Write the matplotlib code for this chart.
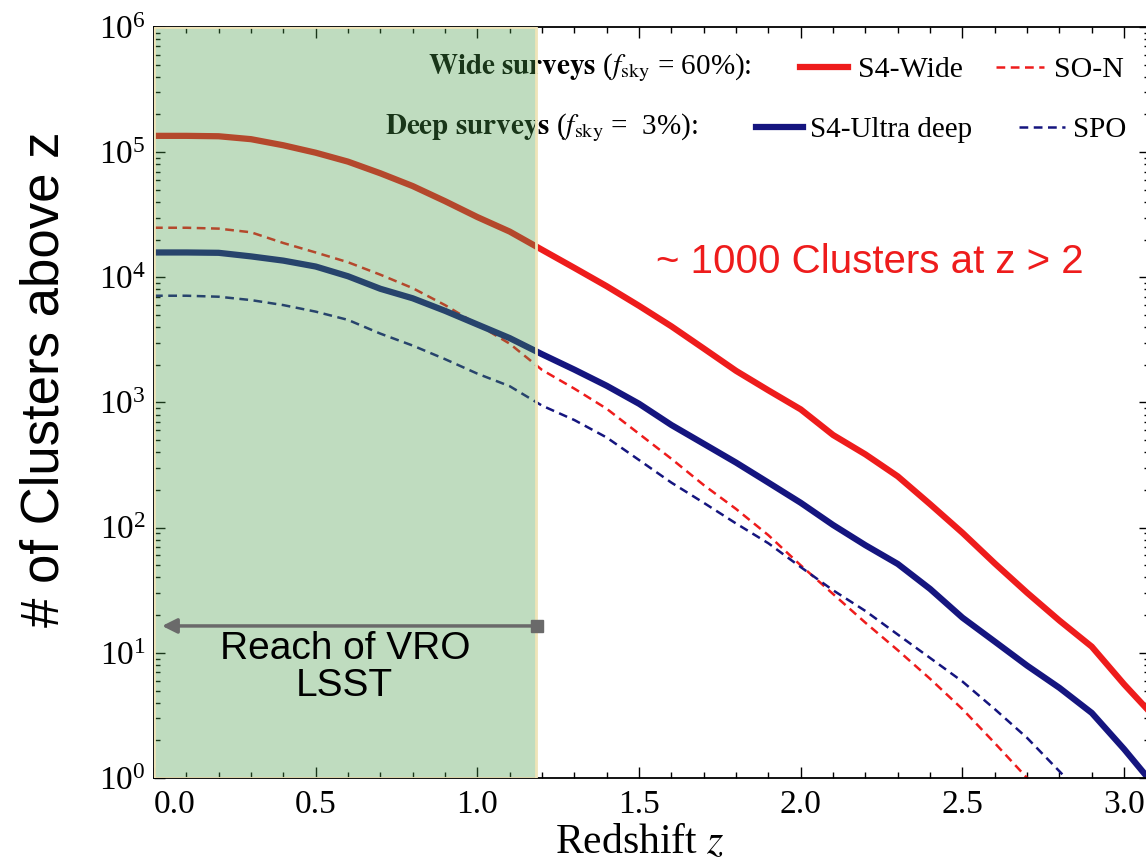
import numpy as np
import matplotlib
matplotlib.use("Agg")
import matplotlib.pyplot as plt
from matplotlib.ticker import MultipleLocator, FormatStrFormatter, LogLocator
from matplotlib.transforms import IdentityTransform

plt.rcParams['font.family'] = ['Liberation Serif', 'DejaVu Serif']
plt.rcParams['mathtext.fontset'] = 'stix'

# S4-Wide (f_sky = 60%)
s4_wide_z = [0.0, 0.1, 0.2, 0.3, 0.4, 0.5, 0.6, 0.7, 0.8, 0.9, 1.0, 1.1, 1.2, 1.3, 1.4,
             1.5, 1.6, 1.7, 1.8, 1.9, 2.0, 2.1, 2.2, 2.3, 2.4, 2.5, 2.6, 2.7, 2.8, 2.9,
             3.0, 3.1]
s4_wide_n = [1.35e5, 1.35e5, 1.34e5, 1.27e5, 1.135e5, 9.9e4, 8.4e4, 6.78e4, 5.36e4, 4.06e4,
             3.03e4, 2.32e4, 1.66e4, 1.19e4, 8.49e3, 5.92e3, 4.06e3, 2.7e3, 1.79e3, 1.25e3,
             881, 550, 385, 257, 154, 91, 51.8, 30.2, 18.1, 11.2, 5.6, 2.95]

# SO-N
so_n_z = [0.0, 0.1, 0.2, 0.3, 0.4, 0.5, 0.6, 0.7, 0.8, 0.9, 1.0, 1.1, 1.2, 1.3, 1.4,
          1.5, 1.6, 1.7, 1.8, 1.9, 2.0, 2.1, 2.2, 2.3, 2.4, 2.5, 2.6, 2.7, 2.75]
so_n_n = [2.49e4, 2.49e4, 2.45e4, 2.29e4, 1.88e4, 1.58e4, 1.32e4, 1.05e4, 8.2e3, 6.0e3,
          4.2e3, 2.95e3, 1.82e3, 1.29e3, 891, 562, 355, 219, 141, 87, 50, 29.5, 17.4,
          10.5, 6.2, 3.55, 1.9, 1.0, 0.71]

# S4-Ultra deep (f_sky = 3%)
s4_deep_z = [0.0, 0.1, 0.2, 0.3, 0.4, 0.5, 0.6, 0.7, 0.8, 0.9, 1.0, 1.1, 1.2, 1.3, 1.4,
             1.5, 1.6, 1.7, 1.8, 1.9, 2.0, 2.1, 2.2, 2.3, 2.4, 2.5, 2.6, 2.7, 2.8, 2.9,
             3.0, 3.1]
s4_deep_n = [1.58e4, 1.58e4, 1.57e4, 1.47e4, 1.36e4, 1.22e4, 1.02e4, 8.1e3, 6.8e3, 5.4e3,
             4.2e3, 3.27e3, 2.43e3, 1.83e3, 1.36e3, 977, 661, 468, 331, 229, 158, 105,
             72.4, 51.3, 32.4, 19.1, 12.3, 7.9, 5.25, 3.31, 1.70, 0.83]

# SPO
spo_z = [0.0, 0.1, 0.2, 0.3, 0.4, 0.5, 0.6, 0.7, 0.8, 0.9, 1.0, 1.1, 1.2, 1.3, 1.4,
         1.5, 1.6, 1.7, 1.8, 1.9, 2.0, 2.1, 2.2, 2.3, 2.4, 2.5, 2.6, 2.7, 2.82, 2.85]
spo_n = [7.13e3, 7.13e3, 7.0e3, 6.58e3, 6.0e3, 5.32e3, 4.57e3, 3.55e3, 2.85e3, 2.22e3,
         1.70e3, 1.35e3, 944, 724, 525, 347, 229, 158, 108, 75, 48.4, 31.6, 21.6, 14.0,
         9.1, 5.9, 3.55, 2.09, 1.0, 0.85]

# VRO/LSST reach
lsst_reach = 1.18
arrow_z = [1.185, 0.025]
arrow_n = 16.4
lsst_label_z, lsst_label_n = 0.59, 7.6
note_z, note_n = 2.213, 1.32e4

RED = '#ee1c1c'
NAVY = '#15157f'
px = IdentityTransform()

fig = plt.figure(figsize=(11.46, 8.63), dpi=100)
ax = fig.add_axes([154 / 1146, 1 - 778 / 863, (1150 - 154) / 1146, (778 - 27) / 863])

l1, = ax.plot(s4_wide_z, s4_wide_n, color=RED, lw=4.5, zorder=2, label='S4-Wide')
l2, = ax.plot(so_n_z, so_n_n, color=RED, lw=1.8, dashes=(3.5, 2.2), zorder=2, label='SO-N')
l3, = ax.plot(s4_deep_z, s4_deep_n, color=NAVY, lw=4.5, zorder=2, label='S4-Ultra deep')
l4, = ax.plot(spo_z, spo_n, color=NAVY, lw=1.8, dashes=(3.5, 2.2), zorder=2, label='SPO')

ax.set_yscale('log')
ax.set_xlim(0, 3.08)
ax.set_ylim(1, 1e6)

ax.xaxis.set_major_locator(MultipleLocator(0.5))
ax.xaxis.set_minor_locator(MultipleLocator(0.1))
ax.xaxis.set_major_formatter(FormatStrFormatter('%.1f'))
ax.yaxis.set_major_locator(LogLocator(base=10, numticks=10))
ax.yaxis.set_minor_locator(LogLocator(base=10, subs=np.arange(2, 10), numticks=20))
ax.tick_params(which='both', direction='in', top=True, right=True, width=1)
ax.tick_params(which='major', length=8, labelsize=24)
ax.tick_params(which='minor', length=4)
ax.tick_params(axis='x', pad=8)
ax.tick_params(axis='y', pad=6)
for s in ax.spines.values():
    s.set_linewidth(1.3)
ax.xaxis.label.set_visible(False)
ax.yaxis.label.set_visible(False)

fig.text(640 / 1146, 20 / 863, 'Redshift $z$', ha='center', va='center', fontsize=30)
fig.text(45 / 1146, 1 - 379 / 863, '# of Clusters above z', rotation=90,
         ha='center', va='center', fontsize=38, family=['Liberation Sans', 'DejaVu Sans'])

# legend rows (kept under the green band, as in the original)
ax.text(428, 863 - 68, r'$\mathbf{Wide\ surveys}$ ($f_{\rm sky}$ = 60%):', transform=px,
        fontsize=21, va='center', ha='left', zorder=2)
ax.text(385, 863 - 128, r'$\mathbf{Deep\ surveys}$ ($f_{\rm sky}$ =  3%):', transform=px,
        fontsize=21, va='center', ha='left', zorder=2)
leg1 = ax.legend(handles=[l1, l2], ncol=2, frameon=False, fontsize=21.5,
                 loc='center left', bbox_to_anchor=(800, 863 - 70), bbox_transform=px,
                 handlelength=1.6, handletextpad=0.35, columnspacing=1.1, borderpad=0,
                 borderaxespad=0)
leg1.set_zorder(2)
ax.add_artist(leg1)
leg2 = ax.legend(handles=[l3, l4], ncol=2, frameon=False, fontsize=21,
                 loc='center left', bbox_to_anchor=(756, 863 - 130), bbox_transform=px,
                 handlelength=1.6, handletextpad=0.25, columnspacing=1.6, borderpad=0,
                 borderaxespad=0)
leg2.set_zorder(2)

# green LSST region drawn over the curves
ax.axvspan(0, lsst_reach, facecolor=(0.29, 0.61, 0.29, 0.35), edgecolor='#efe4b8', lw=2, zorder=4)

ax.annotate('', xy=(arrow_z[1], arrow_n), xytext=(arrow_z[0], arrow_n),
            arrowprops=dict(arrowstyle='-|>', color='#6a6a6a', lw=2.5, mutation_scale=22,
                            shrinkA=0, shrinkB=0), zorder=5)
ax.plot([arrow_z[0]], [arrow_n], marker='s', ms=8, color='#6a6a6a', zorder=5, clip_on=False)
ax.text(lsst_label_z, lsst_label_n, 'Reach of VRO\nLSST', ha='center', va='center',
        fontsize=28, linespacing=1.05, family=['Liberation Sans', 'DejaVu Sans'], zorder=6)

ax.text(note_z, note_n, '~ 1000 Clusters at z > 2', color=RED, ha='center', va='center',
        fontsize=29, family=['Liberation Sans', 'DejaVu Sans'], zorder=6)

# first x label sits right of its tick, clear of the 10^0 label
fig.canvas.draw()
for tick in ax.xaxis.get_major_ticks():
    if abs(tick.get_loc()) < 1e-9:
        tick.label1.set_horizontalalignment('left')

fig.savefig('out.png', dpi=100)
